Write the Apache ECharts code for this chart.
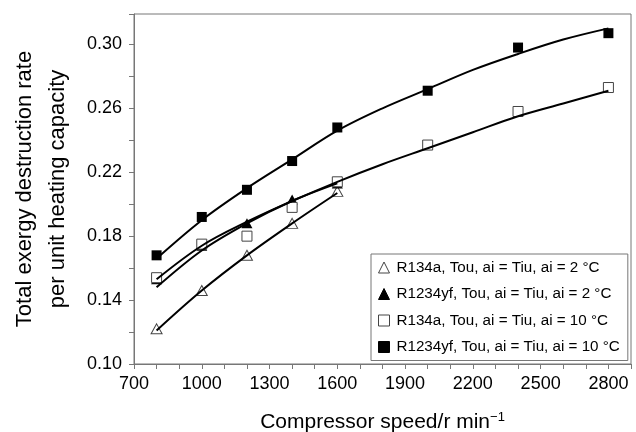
<!DOCTYPE html>
<html>
<head>
<meta charset="utf-8">
<script src="https://cdn.jsdelivr.net/npm/echarts@6/dist/echarts.min.js"></script>
<style>
html, body { margin: 0; padding: 0; background: #fff; }
#chart { width: 636px; height: 432px; }
</style>
</head>
<body>
<div id="chart"></div>
<script>
// Measured points
const speedsLow = [800, 1000, 1200, 1400, 1600];
const speedsAll = [800, 1000, 1200, 1400, 1600, 2000, 2400, 2800];
const r134a2 = [0.122, 0.146, 0.168, 0.188, 0.208];
const r1234yf2 = [0.153, 0.174, 0.188, 0.203, 0.213];
const r134a10 = [0.154, 0.175, 0.180, 0.198, 0.214, 0.237, 0.258, 0.273];
const r1234yf10 = [0.168, 0.192, 0.209, 0.227, 0.248, 0.271, 0.298, 0.307];

// Trend curves
const fitSpeedsLow = [800, 1000, 1200, 1400, 1600];
const fitSpeedsAll = [800, 1000, 1200, 1400, 1600, 1800, 2000, 2200, 2400, 2600, 2800];
const fitR134a2 = [0.121, 0.146, 0.168, 0.188, 0.207];
const fitR1234yf2 = [0.148, 0.171, 0.188, 0.202, 0.213];
const fitR134a10 = [0.153, 0.174, 0.189, 0.202, 0.214, 0.225, 0.235, 0.245, 0.255, 0.263, 0.271];
const fitR1234yf10 = [0.166, 0.190, 0.210, 0.228, 0.246, 0.260, 0.272, 0.284, 0.294, 0.303, 0.310];

const seriesNames = [
  'R134a, Tou, ai = Tiu, ai = 2 °C',
  'R1234yf, Tou, ai = Tiu, ai = 2 °C',
  'R134a, Tou, ai = Tiu, ai = 10 °C',
  'R1234yf, Tou, ai = Tiu, ai = 10 °C'
];

const xMin = 700, xMax = 2900, xStep = 300;
const yMin = 0.10, yMax = 0.319, yStep = 0.04;

const FONT = '"Liberation Sans", Arial, Helvetica, sans-serif';
const AXIS_GREY = '#777';

const pairs = (xs, ys) => ys.map((y, i) => [xs[i], y]);

function markerSeries(name, xs, ys, symbol, filled) {
  return {
    name: name,
    type: 'scatter',
    data: pairs(xs, ys),
    symbol: symbol,
    symbolSize: symbol === 'triangle' ? [11, 10] : 10,
    z: 2,
    itemStyle: filled
      ? { color: '#000', borderColor: '#000', borderWidth: 0, opacity: 1 }
      : { color: '#fff', borderColor: '#444', borderWidth: 1, opacity: 1 },
    emphasis: { disabled: true }
  };
}

function curveSeries(xs, ys) {
  return {
    type: 'line',
    data: pairs(xs, ys),
    smooth: 0.35,
    showSymbol: false,
    symbol: 'none',
    z: 3,
    lineStyle: { color: '#000', width: 2 },
    emphasis: { disabled: true }
  };
}

const chart = echarts.init(document.getElementById('chart'), null, { renderer: 'canvas' });

chart.setOption({
  animation: false,
  backgroundColor: '#fff',
  textStyle: { fontFamily: FONT },
  grid: {
    left: 134, right: 5, top: 14, bottom: 68,
    outerBoundsMode: 'none',
    containLabel: false,
    show: true, borderColor: AXIS_GREY, borderWidth: 1, backgroundColor: 'transparent'
  },
  legend: {
    orient: 'vertical',
    left: 371,
    top: 254,
    padding: [6, 8, 6, 7],
    itemGap: 11.5,
    itemWidth: 11,
    itemHeight: 11,
    borderColor: AXIS_GREY,
    borderWidth: 1,
    backgroundColor: '#fff',
    selectedMode: false,
    textStyle: { fontFamily: FONT, fontSize: 15.2, color: '#000', lineHeight: 15, padding: [0, 0, 0, 2] },
    data: seriesNames.map(n => ({ name: n, itemStyle: { borderWidth: 1, opacity: 1 } }))
  },
  xAxis: {
    type: 'value',
    min: xMin, max: xMax, interval: xStep,
    name: 'Compressor speed/r min{sup|−1}',
    nameLocation: 'middle',
    nameGap: 47,
    nameTextStyle: {
      fontFamily: FONT, fontSize: 21, color: '#000',
      rich: { sup: { fontFamily: FONT, fontSize: 13, color: '#000', verticalAlign: 'top', padding: [0, 0, 10, 0] } }
    },
    axisLine: { lineStyle: { color: AXIS_GREY, width: 1 } },
    axisTick: { show: true, length: 5, lineStyle: { color: AXIS_GREY } },
    minorTick: { show: true, splitNumber: 3, length: 5, lineStyle: { color: AXIS_GREY } },
    splitLine: { show: false },
    axisLabel: {
      fontFamily: FONT, fontSize: 18, color: '#000', margin: 11,
      formatter: v => (v > 2800 ? '' : String(v))
    }
  },
  yAxis: {
    type: 'value',
    min: yMin, max: yMax, interval: yStep,
    name: 'Total exergy destruction rate\nper unit heating capacity',
    nameLocation: 'middle',
    nameRotate: 90,
    nameGap: 60,
    nameTextStyle: { fontFamily: FONT, fontSize: 22, color: '#000', lineHeight: 33 },
    axisLine: { lineStyle: { color: AXIS_GREY, width: 1 } },
    axisTick: { show: true, length: 5, lineStyle: { color: AXIS_GREY } },
    minorTick: { show: true, splitNumber: 2, length: 5, lineStyle: { color: AXIS_GREY } },
    splitLine: { show: false },
    axisLabel: {
      fontFamily: FONT, fontSize: 18, color: '#000', margin: 12,
      formatter: v => (v > 0.30001 ? '' : v.toFixed(2))
    }
  },
  series: [
    curveSeries(fitSpeedsLow, fitR134a2),
    curveSeries(fitSpeedsLow, fitR1234yf2),
    curveSeries(fitSpeedsAll, fitR134a10),
    curveSeries(fitSpeedsAll, fitR1234yf10),
    markerSeries(seriesNames[0], speedsLow, r134a2, 'triangle', false),
    markerSeries(seriesNames[1], speedsLow, r1234yf2, 'triangle', true),
    markerSeries(seriesNames[2], speedsAll, r134a10, 'rect', false),
    markerSeries(seriesNames[3], speedsAll, r1234yf10, 'rect', true)
  ]
});
</script>
</body>
</html>
